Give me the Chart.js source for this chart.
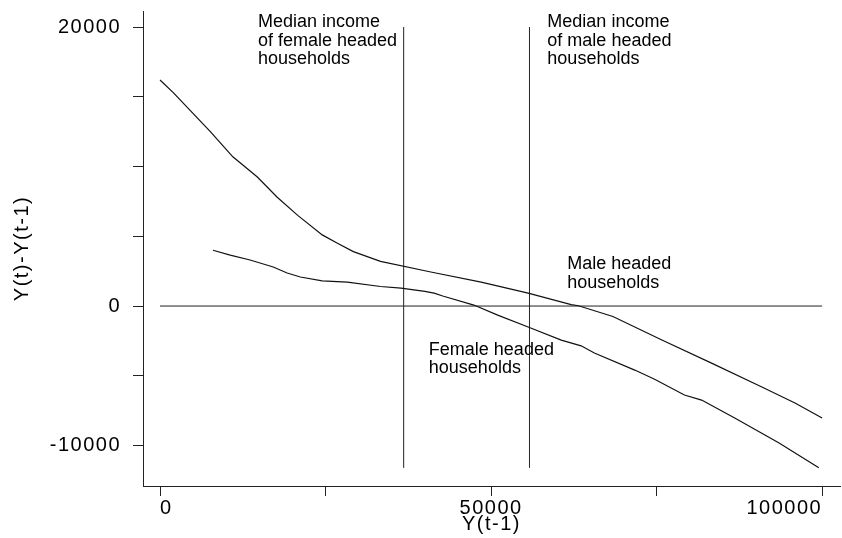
<!DOCTYPE html>
<html>
<head>
<meta charset="utf-8">
<script src="https://cdn.jsdelivr.net/npm/chart.js@4/dist/chart.umd.min.js"></script>
<style>
  html, body { margin: 0; padding: 0; background: #fff; }
</style>
</head>
<body>
<canvas id="chart" width="842" height="538"></canvas>
<script>
// income last year vs change in income, smoothed
const maleIncome = [0, 2000, 7600, 11000, 14700, 17700, 20800, 24500, 26800, 29200, 33300, 40900, 48500, 55600, 62100, 63200, 68400, 75800, 83300, 90900, 95900, 100000];
const maleChange = [16200, 15300, 12500, 10700, 9250, 7800, 6500, 5100, 4500, 3900, 3200, 2440, 1720, 930, 100, 20, -750, -2440, -4090, -5800, -6950, -8030];

const femaleIncome = [8000, 10600, 13600, 17100, 19200, 21200, 24500, 28300, 33300, 36400, 40000, 41400, 42700, 47400, 51000, 55600, 60600, 63600, 65600, 71700, 74700, 79200, 81800, 86800, 93500, 99500];
const femaleChange = [4000, 3650, 3300, 2800, 2370, 2080, 1800, 1720, 1400, 1290, 1050, 930, 720, 70, -650, -1500, -2440, -2850, -3370, -4590, -5250, -6380, -6740, -8030, -9820, -11600];

const femaleMedian = 36800;
const maleMedian = 55800;
const medianSpan = [-11600, 20000];
const zeroSpan = [0, 100000];

const xTicks = [0, 25000, 50000, 75000, 100000];
const xLabels = [0, 50000, 100000];
const yTicks = [-10000, -5000, 0, 5000, 10000, 15000, 20000];
const yLabels = [-10000, 0, 20000];

const notes = [
  { x: 14800, y: 20000, lines: ['Median income', 'of female headed', 'households'] },
  { x: 58500, y: 20000, lines: ['Median income', 'of male headed', 'households'] },
  { x: 61500, y: 2650, lines: ['Male headed', 'households'] },
  { x: 40600, y: -3500, lines: ['Female headed', 'households'] }
];

const toPoints = (xs, ys) => xs.map((x, i) => ({ x: x, y: ys[i] }));

const lineStyle = { showLine: true, pointRadius: 0, borderColor: '#111', borderWidth: 1.2, fill: false, tension: 0 };
const ruleStyle = { showLine: true, pointRadius: 0, borderColor: '#222', borderWidth: 1, fill: false };

const spacing = {
  id: 'spacing',
  beforeDraw(chart) { chart.ctx.letterSpacing = '1.5px'; },
  beforeDatasetsDraw(chart) { chart.ctx.letterSpacing = '0px'; }
};

const labels = {
  id: 'labels',
  afterDatasetsDraw(chart) {
    const { ctx, scales } = chart;
    ctx.save();
    ctx.fillStyle = '#000';
    ctx.font = '18px "Liberation Sans", Arial, sans-serif';
    ctx.textAlign = 'left';
    ctx.textBaseline = 'alphabetic';
    notes.forEach(n => {
      const px = scales.x.getPixelForValue(n.x);
      const py = scales.y.getPixelForValue(n.y);
      n.lines.forEach((t, i) => ctx.fillText(t, px, py + i * 18.5));
    });
    ctx.restore();
  }
};

const axisGrid = { display: true, drawOnChartArea: false, drawTicks: true, tickLength: 10, color: '#222', lineWidth: 1 };
const axisBorder = { display: true, color: '#222', width: 1 };
const tickFont = { family: '"Liberation Sans", Arial, sans-serif', size: 20 };

new Chart(document.getElementById('chart'), {
  type: 'scatter',
  data: {
    datasets: [
      { label: 'Male headed households', data: toPoints(maleIncome, maleChange), ...lineStyle },
      { label: 'Female headed households', data: toPoints(femaleIncome, femaleChange), ...lineStyle },
      { label: 'zero', data: zeroSpan.map(x => ({ x: x, y: 0 })), ...ruleStyle },
      { label: 'female median', data: medianSpan.map(y => ({ x: femaleMedian, y: y })), ...ruleStyle },
      { label: 'male median', data: medianSpan.map(y => ({ x: maleMedian, y: y })), ...ruleStyle }
    ]
  },
  options: {
    responsive: false,
    animation: false,
    layout: { padding: { top: 11, right: 2, left: 0, bottom: 0 } },
    plugins: { legend: { display: false }, tooltip: { enabled: false } },
    scales: {
      x: {
        type: 'linear',
        min: -2570,
        max: 102700,
        afterBuildTicks: s => { s.ticks = xTicks.map(v => ({ value: v })); },
        afterFit: s => { s.height = 52; s.paddingLeft = 0; s.paddingRight = 0; },
        grid: axisGrid,
        border: axisBorder,
        ticks: {
          autoSkip: false, maxRotation: 0, padding: 0, align: 'inner', color: '#000', font: tickFont,
          callback: v => xLabels.includes(v) ? String(v) : ''
        },
        title: { display: true, text: 'Y(t-1)', color: '#000', font: tickFont, padding: { top: 2, bottom: 2 } }
      },
      y: {
        type: 'linear',
        min: -12900,
        max: 21150,
        afterBuildTicks: s => { s.ticks = yTicks.map(v => ({ value: v })); },
        afterFit: s => { s.width = 143; s.paddingTop = 0; s.paddingBottom = 0; },
        grid: axisGrid,
        border: axisBorder,
        ticks: {
          autoSkip: false, padding: 12, color: '#000', font: tickFont,
          callback: v => yLabels.includes(v) ? String(v) : ''
        },
        title: { display: true, text: 'Y(t)-Y(t-1)', color: '#000', font: tickFont, padding: { top: 10, bottom: 10 } }
      }
    }
  },
  plugins: [spacing, labels]
});
</script>
</body>
</html>
